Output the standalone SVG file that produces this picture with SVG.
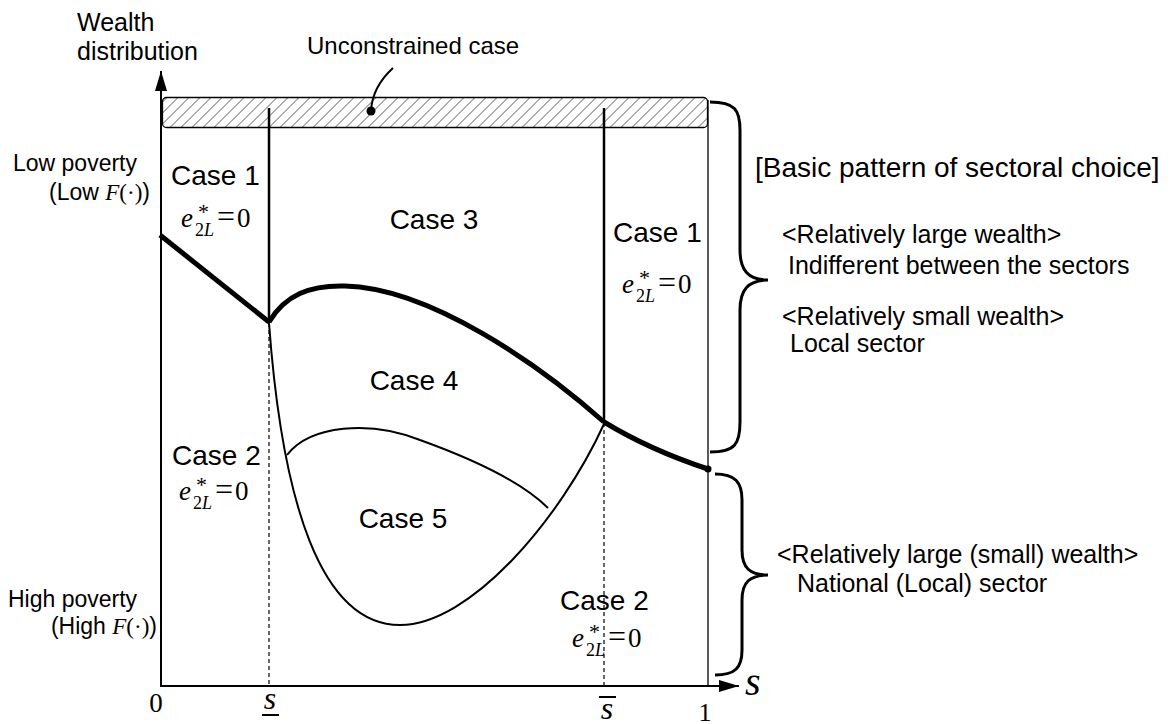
<svg xmlns="http://www.w3.org/2000/svg" width="1175" height="724" viewBox="0 0 1175 724">
<style>
.t{font-family:"Liberation Sans",Arial,sans-serif;fill:#000}
.m{font-family:"Liberation Serif","Times New Roman",serif;fill:#000}
.e{font-size:27px}
.i{font-style:italic}
.sup{font-size:22px;font-style:normal}
.sub{font-size:18px}
.eq{font-size:32px}
.ln{fill:none;stroke:#000}
</style>
<defs>
<pattern id="hatch" patternUnits="userSpaceOnUse" width="11" height="11" patternTransform="skewX(-45)">
<line x1="0" y1="0" x2="0" y2="11" stroke="#000" stroke-width="1.3"/>
</pattern>
<marker id="arr" viewBox="0 0 20 12" refX="20" refY="6" markerWidth="20" markerHeight="12" markerUnits="userSpaceOnUse" orient="auto">
<path d="M0,0 L20,6 L0,12 Z" fill="#000"/>
</marker>
</defs>
<rect width="1175" height="724" fill="#fff"/>

<g id="axes">
<line class="ln" x1="161" y1="686" x2="161" y2="71" stroke-width="2" marker-end="url(#arr)"/>
<line class="ln" x1="160" y1="686" x2="739" y2="686" stroke-width="2" marker-end="url(#arr)"/>
<line class="ln" x1="708" y1="100" x2="708" y2="686" stroke-width="1.3"/>
</g>

<g id="unconstrained">
<rect x="162.5" y="97.5" width="545" height="30" rx="4" fill="url(#hatch)" stroke="#000" stroke-width="1.3"/>
<path class="ln" d="M393,68 C382,78 372,92 371,111" stroke-width="2"/>
<circle cx="371" cy="111" r="4.5" fill="#000"/>
<text class="t" x="307" y="54" font-size="24">Unconstrained case</text>
</g>

<g id="connectors">
<line class="ln" x1="269" y1="108" x2="269" y2="323" stroke-width="2.5"/>
<line class="ln" x1="604" y1="108" x2="604" y2="423" stroke-width="2.5"/>
<line class="ln" x1="269" y1="323" x2="269" y2="686" stroke-width="1.2" stroke-dasharray="4,3"/>
<line class="ln" x1="604" y1="423" x2="604" y2="686" stroke-width="1.2" stroke-dasharray="4,3"/>
<path class="ln" d="M160,235 Q210,275 269,322" stroke-width="5"/>
<path class="ln" d="M269,322 C285,295 310,285 345,286 C430,288 540,365 604,422" stroke-width="5"/>
<path class="ln" d="M604,422 Q650,450 708,469" stroke-width="5"/>
<circle cx="708" cy="469" r="3.5" fill="#000"/>
<path class="ln" d="M269,323 C282,500 320,625 400,625 C470,625 560,520 604,424" stroke-width="2"/>
<path class="ln" d="M287,455 C310,425 370,420 420,440 C470,458 520,480 548,508" stroke-width="2"/>
<path class="ln" d="M710,102 C735,102 740,110 740,130 L740,250 C740,270 748,280 768,280 C748,280 740,290 740,310 L740,422 C740,444 735,452 710,452" stroke-width="3"/>
<path class="ln" d="M715,474 C735,474 742,482 742,500 L742,550 C742,568 750,575 768,575 C750,575 742,582 742,600 L742,650 C742,668 735,675 715,675" stroke-width="3"/>
</g>

<g id="ylabels">
<text class="t" x="77" y="31" font-size="25">Wealth</text>
<text class="t" x="77" y="60" font-size="25">distribution</text>
<text class="t" x="13" y="171" font-size="23">Low poverty</text>
<text class="t" x="150" y="200" font-size="23" text-anchor="end">(Low <tspan class="m i">F</tspan><tspan class="m">(·)</tspan>)</text>
<text class="t" x="8" y="607" font-size="23">High poverty</text>
<text class="t" x="157" y="634" font-size="23" text-anchor="end">(High <tspan class="m i">F</tspan><tspan class="m">(·)</tspan>)</text>
</g>

<g id="xlabels">
<text class="m" x="156" y="712" font-size="27" text-anchor="middle">0</text>
<text class="m i" x="270" y="709" font-size="32" text-anchor="middle">s</text>
<line class="ln" x1="262" y1="715" x2="279" y2="715" stroke-width="2"/>
<text class="m i" x="607" y="719" font-size="32" text-anchor="middle">s</text>
<line class="ln" x1="599" y1="697" x2="616" y2="697" stroke-width="2"/>
<text class="m" x="705" y="721" font-size="26" text-anchor="middle">1</text>
<text class="m i" x="745" y="695" font-size="40">s</text>
</g>

<g id="case1-left">
<text class="t" x="171" y="185" font-size="28">Case 1</text>
<text class="m e" x="181" y="227"><tspan class="i">e</tspan><tspan class="sup" dx="5" dy="-8">*</tspan><tspan class="sub" dx="-14" dy="17">2</tspan><tspan class="sub i">L</tspan><tspan class="eq" dx="3" dy="-9">=</tspan><tspan dx="2">0</tspan></text>
</g>

<g id="case3">
<text class="t" x="434" y="229" font-size="28" text-anchor="middle">Case 3</text>
</g>

<g id="case1-right">
<text class="t" x="613" y="242" font-size="28">Case 1</text>
<text class="m e" x="622" y="293"><tspan class="i">e</tspan><tspan class="sup" dx="5" dy="-8">*</tspan><tspan class="sub" dx="-14" dy="17">2</tspan><tspan class="sub i">L</tspan><tspan class="eq" dx="3" dy="-9">=</tspan><tspan dx="2">0</tspan></text>
</g>

<g id="case4">
<text class="t" x="414" y="390" font-size="28" text-anchor="middle">Case 4</text>
</g>

<g id="case2-left">
<text class="t" x="172" y="465" font-size="28">Case 2</text>
<text class="m e" x="179" y="500"><tspan class="i">e</tspan><tspan class="sup" dx="5" dy="-8">*</tspan><tspan class="sub" dx="-14" dy="17">2</tspan><tspan class="sub i">L</tspan><tspan class="eq" dx="3" dy="-9">=</tspan><tspan dx="2">0</tspan></text>
</g>

<g id="case5">
<text class="t" x="403" y="528" font-size="28" text-anchor="middle">Case 5</text>
</g>

<g id="case2-right">
<text class="t" x="560" y="610" font-size="28">Case 2</text>
<text class="m e" x="572" y="647"><tspan class="i">e</tspan><tspan class="sup" dx="5" dy="-8">*</tspan><tspan class="sub" dx="-14" dy="17">2</tspan><tspan class="sub i">L</tspan><tspan class="eq" dx="3" dy="-9">=</tspan><tspan dx="2">0</tspan></text>
</g>

<g id="legend-upper">
<text class="t" x="755" y="177" font-size="28">[Basic pattern of sectoral choice]</text>
<text class="t" x="782" y="243" font-size="25">&lt;Relatively large wealth&gt;</text>
<text class="t" x="788" y="274" font-size="25">Indifferent between the sectors</text>
<text class="t" x="782" y="325" font-size="25">&lt;Relatively small wealth&gt;</text>
<text class="t" x="790" y="352" font-size="25">Local sector</text>
</g>

<g id="legend-lower">
<text class="t" x="777" y="563" font-size="25">&lt;Relatively large (small) wealth&gt;</text>
<text class="t" x="797" y="592" font-size="25">National (Local) sector</text>
</g>
</svg>
